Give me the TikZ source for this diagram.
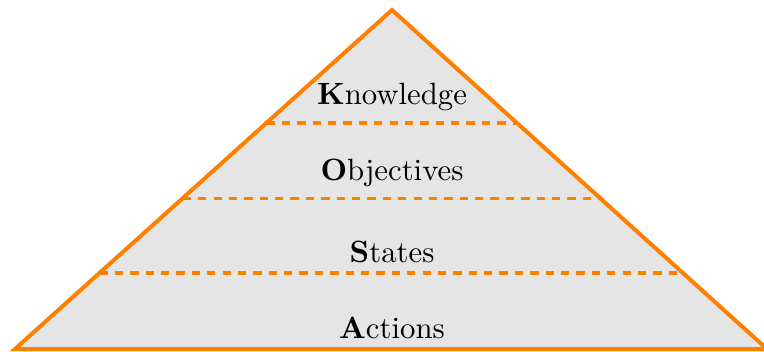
\documentclass[tikz,border=0pt]{standalone}
\usetikzlibrary{calc}

\begin{document}
\begin{tikzpicture}[x=0.325pt,y=-0.325pt,
        outline/.style={draw=orange,line width=1.3pt,fill=gray!20},
        split line/.style={draw=orange,line width=1.05pt,dash pattern=on 2.7pt off 2.3pt},
        level node/.style={black,font=\normalsize}]

        \useasboundingbox (0,0) rectangle (764,351);

        \coordinate (top)   at (392,10);
        \coordinate (left)  at (15,349);
        \coordinate (right) at (767,349);

        \draw[outline] (left) -- (top) -- (right) -- cycle;

        \coordinate (k1) at ($(left)!0.667!(top)$);
        \coordinate (k2) at ($(right)!0.667!(top)$);
        \coordinate (o1) at ($(left)!0.445!(top)$);
        \coordinate (o2) at ($(right)!0.445!(top)$);
        \coordinate (s1) at ($(left)!0.224!(top)$);
        \coordinate (s2) at ($(right)!0.224!(top)$);

        \path[split line] (k1) -- (k2);
        \path[split line] (o1) -- (o2);
        \path[split line] (s1) -- (s2);

        \node[level node] (know)  at (392,97)  {\textbf{K}nowledge};
        \node[level node] (obj)   at (392,173) {\textbf{O}bjectives};
        \node[level node] (state) at (392,252) {\textbf{S}tates};
        \node[level node] (act)   at (392,328) {\textbf{A}ctions};
    \end{tikzpicture}
\end{document}
